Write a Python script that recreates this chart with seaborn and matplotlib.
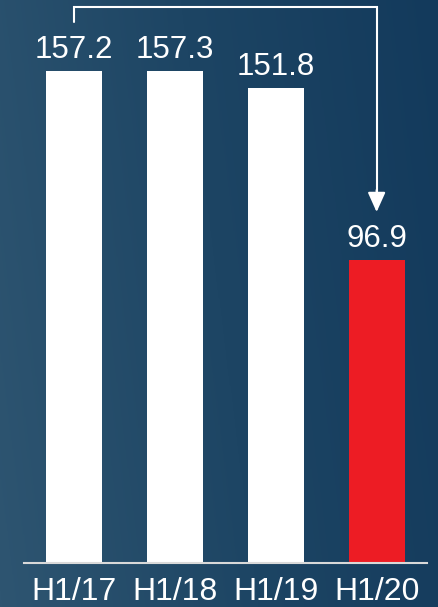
import numpy as np
import pandas as pd
import matplotlib
matplotlib.use("Agg")
import matplotlib.pyplot as plt
import seaborn as sns
from matplotlib.colors import LinearSegmentedColormap

categories = ["H1/17", "H1/18", "H1/19", "H1/20"]
values = [157.2, 157.3, 151.8, 96.9]
bar_colors = ["#ffffff", "#ffffff", "#ffffff", "#ed1c24"]
value_labels = ["157.2", "157.3", "151.8", "96.9"]

sns.set_theme(style="white")
plt.rcParams["font.family"] = ["Liberation Sans", "DejaVu Sans"]

W, H = 439, 607
fig = plt.figure(figsize=(W / 100, H / 100), dpi=100)

# background gradient
bg = fig.add_axes([0, 0, 1, 1])
cmap = LinearSegmentedColormap.from_list("bg", ["#2e5571", "#1d4564", "#133a5c"])
xx = np.linspace(0, 1, 400)
yy = np.linspace(0, 1, 400)
X, Y = np.meshgrid(xx, yy)
grad = 0.85 * X + 0.15 * (1 - Y)
bg.imshow(grad, cmap=cmap, aspect="auto", extent=[0, 1, 0, 1], origin="upper")
bg.set_axis_off()

left, right = 24 / W, 427 / W
bottom, top = (H - 563) / H, 1.0
ax = fig.add_axes([left, bottom, right - left, top - bottom])
ax.set_facecolor("none")

df = pd.DataFrame({"cat": categories, "val": values})
sns.barplot(data=df, x="cat", y="val", hue="cat", palette=bar_colors,
            width=0.555, legend=False, ax=ax, saturation=1, edgecolor="none")

ymax = 563 / 3.13
ax.set_xlim(-0.5, 3.5)
ax.set_ylim(0, ymax)

for i, (v, lab) in enumerate(zip(values, value_labels)):
    ax.annotate(lab, xy=(i, v), xytext=(0, 9.4), textcoords="offset points",
                ha="center", va="baseline", fontsize=22.5, color="white")

# bracket arrow from first bar to last bar
top_y = ymax - 7 / 3.13
ax.plot([0, 0, 3, 3], [ymax - 22 / 3.13, top_y, top_y, ymax - 195 / 3.13],
        color="white", lw=1.5, clip_on=False, solid_joinstyle="miter")
ax.annotate("", xy=(3, ymax - 212 / 3.13), xytext=(3, ymax - 190 / 3.13),
            arrowprops=dict(arrowstyle="-|>,head_length=1.0,head_width=0.45",
                            color="white", lw=1.5, shrinkA=0, shrinkB=0))

sns.despine(ax=ax, left=True, top=True, right=True)
ax.spines["bottom"].set_color("#d9d9d9")
ax.spines["bottom"].set_linewidth(1.5)
ax.set_yticks([])
ax.set_xlabel("")
ax.set_ylabel("")
ax.tick_params(axis="x", length=0, pad=10, labelsize=23, labelcolor="white")

fig.savefig("out.png", dpi=100)
